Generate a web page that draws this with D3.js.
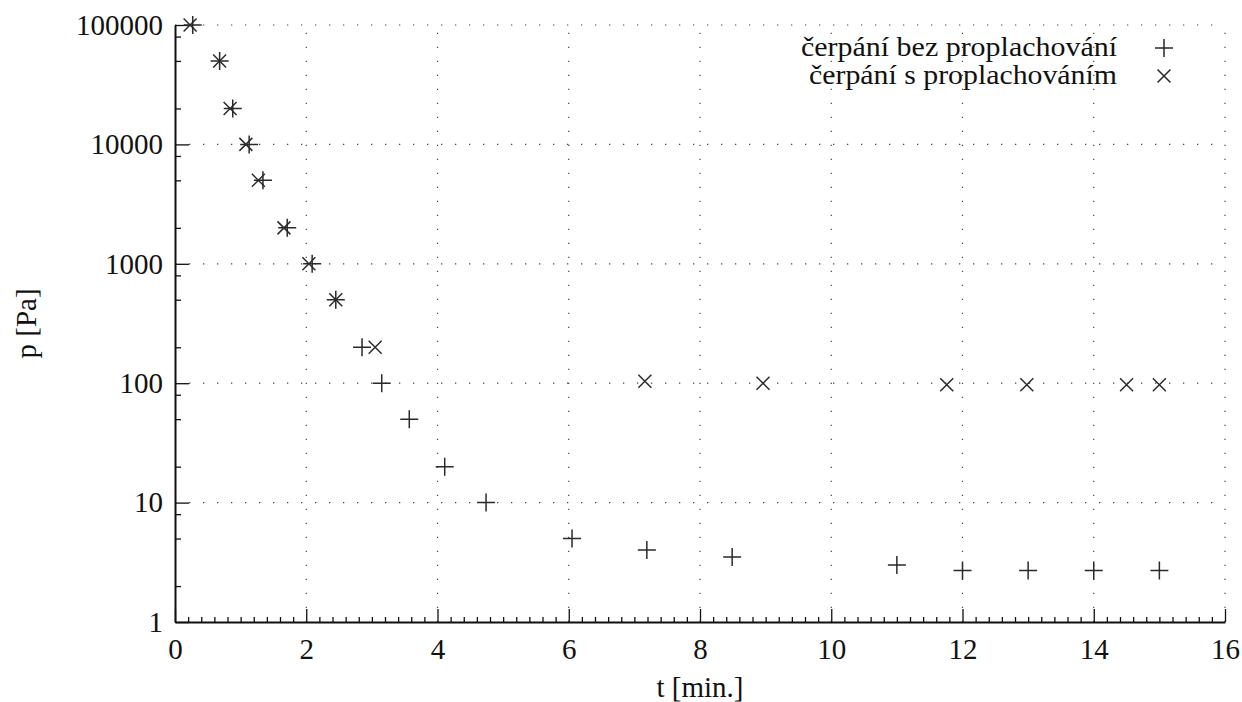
<!DOCTYPE html>
<html lang="cs">
<head>
    <meta charset="UTF-8">
    <title>Čerpání</title>
    <script src="https://d3js.org/d3.v7.min.js"></script>
    <style>
        body { margin: 0; background: #fff; }
    </style>
</head>
<body>
    <div id="chart"></div>

    <script>
        // data
        const plusTime = [0.27, 0.68, 0.88, 1.13, 1.34, 1.71, 2.09, 2.45, 2.85, 3.15, 3.57, 4.11, 4.74, 6.05, 7.19, 8.49, 11, 12, 13, 14, 15];
        const plusPressure = [100000, 50000, 20000, 10000, 5000, 2000, 1000, 500, 200, 100, 50, 20, 10, 5, 4, 3.5, 3, 2.7, 2.7, 2.7, 2.7];
        const crossTime = [0.23, 0.68, 0.84, 1.08, 1.27, 1.66, 2.04, 2.45, 3.05, 7.16, 8.96, 11.76, 12.98, 14.5, 15];
        const crossPressure = [100000, 50000, 20000, 10000, 5000, 2000, 1000, 500, 200, 104, 100, 97, 97, 97, 97];

        const xTicks = [0, 2, 4, 6, 8, 10, 12, 14, 16];
        const yTicks = [1, 10, 100, 1000, 10000, 100000];
        const seriesNames = ["čerpání bez proplachování", "čerpání s proplachováním"];

        const FONT = '"Liberation Serif", "Times New Roman", Times, serif';
        const width = 1242, height = 702;
        const margin = {left: 175, right: 17, top: 25, bottom: 80};

        const svg = d3.select("#chart").append("svg")
            .attr("width", width)
            .attr("height", height);

        const x = d3.scaleLinear().domain([0, 16]).range([margin.left, width - margin.right]);
        const y = d3.scaleLog().domain([1, 100000]).range([height - margin.bottom, margin.top]);

        // minor ticks
        const xMinor = d3.range(0, 16.001, 0.2).filter(v => Math.abs(v / 2 - Math.round(v / 2)) > 1e-6);
        const yMinor = [];
        yTicks.slice(0, -1).forEach(d => [2, 5, 8].forEach(m => yMinor.push(d * m)));

        // grid
        const grid = svg.append("g")
            .attr("stroke", "#444")
            .attr("stroke-width", 1.2)
            .attr("stroke-dasharray", "1.3,12.7");

        grid.selectAll(".gx")
            .data(xTicks.slice(1))
            .join("line")
            .attr("x1", d => x(d)).attr("x2", d => x(d))
            .attr("y1", y(1)).attr("y2", y(100000));

        grid.selectAll(".gy")
            .data(yTicks.slice(1))
            .join("line")
            .attr("x1", x(0)).attr("x2", x(16))
            .attr("y1", d => y(d)).attr("y2", d => y(d));

        // axes
        svg.append("g")
            .attr("transform", `translate(0,${y(1)})`)
            .call(d3.axisBottom(x).tickValues(xTicks).tickFormat(d3.format("d"))
                .tickSizeInner(-13).tickSizeOuter(0).tickPadding(16));

        svg.append("g")
            .attr("transform", `translate(0,${y(1)})`)
            .call(d3.axisBottom(x).tickValues(xMinor).tickFormat("")
                .tickSizeInner(-5).tickSizeOuter(0))
            .call(g => g.select(".domain").remove());

        svg.append("g")
            .attr("transform", `translate(${x(0)},0)`)
            .call(d3.axisLeft(y).tickValues(yTicks).tickFormat(d3.format("d"))
                .tickSizeInner(-14).tickSizeOuter(0).tickPadding(12));

        svg.append("g")
            .attr("transform", `translate(${x(0)},0)`)
            .call(d3.axisLeft(y).tickValues(yMinor).tickFormat("")
                .tickSizeInner(-6).tickSizeOuter(0))
            .call(g => g.select(".domain").remove());

        svg.selectAll(".tick line").attr("stroke", "#111").attr("stroke-width", 1.3);
        svg.selectAll(".domain").attr("stroke", "#111").attr("stroke-width", 2);
        svg.selectAll(".tick text")
            .attr("font-family", null)
            .style("font-family", FONT)
            .style("font-size", "29px")
            .attr("fill", "#111");

        // axis titles
        svg.append("text")
            .attr("x", x(8))
            .attr("y", 697)
            .attr("text-anchor", "middle")
            .style("font-family", FONT)
            .style("font-size", "29px")
            .attr("fill", "#111")
            .text("t [min.]");

        svg.append("text")
            .attr("transform", `translate(36,${(y(1) + y(100000)) / 2}) rotate(-90)`)
            .attr("text-anchor", "middle")
            .style("font-family", FONT)
            .style("font-size", "29px")
            .attr("fill", "#111")
            .text("p [Pa]");

        // markers
        const plusPath = "M-9,0H9M0,-9V9";
        const crossPath = "M-6.5,-6.5L6.5,6.5M-6.5,6.5L6.5,-6.5";

        const marks = svg.append("g")
            .attr("fill", "none")
            .attr("stroke", "#2a2a2a")
            .attr("stroke-width", 1.5);

        marks.selectAll(".plus")
            .data(plusTime.map((t, i) => [t, plusPressure[i]]))
            .join("path")
            .attr("class", "plus")
            .attr("d", plusPath)
            .attr("transform", d => `translate(${x(d[0])},${y(d[1])})`);

        marks.selectAll(".cross")
            .data(crossTime.map((t, i) => [t, crossPressure[i]]))
            .join("path")
            .attr("class", "cross")
            .attr("d", crossPath)
            .attr("transform", d => `translate(${x(d[0])},${y(d[1])})`);

        // legend (CM text is wider than Times, so stretch a little)
        const legendWidths = [316, 308];
        const legend = svg.append("g");
        [plusPath, crossPath].forEach((p, i) => {
            const ly = 48 + i * 28;
            legend.append("text")
                .attr("x", 1117)
                .attr("y", ly + 8)
                .attr("text-anchor", "end")
                .attr("textLength", legendWidths[i])
                .attr("lengthAdjust", "spacingAndGlyphs")
                .style("font-family", FONT)
                .style("font-size", "27px")
                .attr("fill", "#111")
                .text(seriesNames[i]);
            legend.append("path")
                .attr("d", p)
                .attr("transform", `translate(1164,${ly})`)
                .attr("fill", "none")
                .attr("stroke", "#2a2a2a")
                .attr("stroke-width", 1.5);
        });
    </script>
</body>
</html>
